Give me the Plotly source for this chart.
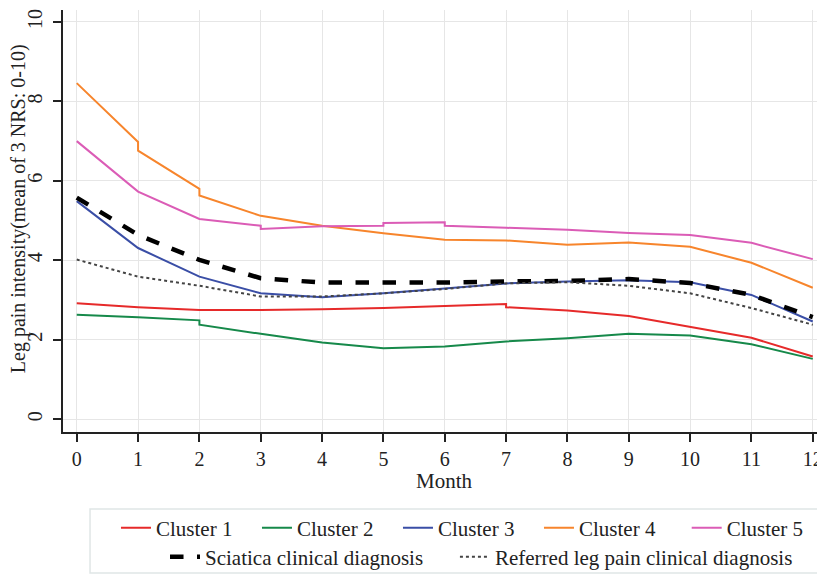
import plotly.graph_objects as go

# ---- data ----
c1_month = [0, 1, 2, 3, 4, 5, 6, 7, 7, 8, 9, 10, 11, 12]
c1_pain = [2.92, 2.82, 2.75, 2.75, 2.77, 2.80, 2.85, 2.90, 2.82, 2.74, 2.60, 2.33, 2.05, 1.58]

c2_month = [0, 1, 2, 2, 3, 4, 5, 6, 7, 8, 9, 10, 11, 12]
c2_pain = [2.63, 2.57, 2.49, 2.38, 2.15, 1.93, 1.79, 1.83, 1.96, 2.04, 2.15, 2.11, 1.89, 1.52]

c3_month = [0, 1, 2, 3, 4, 5, 6, 7, 8, 9, 10, 11, 12]
c3_pain = [5.49, 4.31, 3.59, 3.17, 3.07, 3.17, 3.29, 3.42, 3.47, 3.50, 3.45, 3.13, 2.46]

c4_month = [0, 1, 1, 2, 2, 3, 4, 5, 6, 7, 8, 9, 10, 11, 12]
c4_pain = [8.46, 6.98, 6.76, 5.80, 5.63, 5.12, 4.87, 4.68, 4.52, 4.50, 4.39, 4.45, 4.34, 3.94, 3.31]

c5_month = [0, 1, 2, 3, 3, 4, 5, 5, 6, 6, 7, 8, 9, 10, 11, 12]
c5_pain = [7.00, 5.73, 5.04, 4.87, 4.79, 4.86, 4.87, 4.94, 4.96, 4.87, 4.82, 4.77, 4.69, 4.64, 4.44, 4.03]

sci_month = [0, 1, 2, 3, 4, 5, 6, 7, 8, 9, 10, 11, 12]
sci_pain = [5.58, 4.64, 4.01, 3.55, 3.44, 3.43, 3.44, 3.47, 3.48, 3.53, 3.43, 3.13, 2.57]

ref_month = [0, 1, 2, 3, 4, 5, 6, 7, 8, 9, 10, 11, 12]
ref_pain = [4.02, 3.59, 3.36, 3.09, 3.09, 3.17, 3.28, 3.42, 3.45, 3.36, 3.17, 2.80, 2.38]

x_ticks = list(range(0, 13))
y_ticks = [0, 2, 4, 6, 8, 10]

FONT = "Liberation Serif"

fig = go.Figure()
clusters = [
    ("Cluster 1", c1_month, c1_pain, "#e62a2a", "legend"),
    ("Cluster 2", c2_month, c2_pain, "#16894a", "legend"),
    ("Cluster 3", c3_month, c3_pain, "#3a4ea6", "legend"),
    ("Cluster 4", c4_month, c4_pain, "#f7852c", "legend"),
    ("Cluster 5", c5_month, c5_pain, "#db5cb6", "legend4"),
]
for name, xs, ys, col, leg in clusters:
    fig.add_trace(go.Scatter(x=xs, y=ys, mode="lines", name=name,
                             line=dict(color=col, width=2), legend=leg))

fig.add_trace(go.Scatter(x=sci_month, y=sci_pain, mode="lines", name="Sciatica clinical diagnosis",
                         line=dict(color="black", width=4.5, dash="dash"), legend="legend2"))
fig.add_trace(go.Scatter(x=ref_month, y=ref_pain, mode="lines", name="Referred leg pain clinical diagnosis",
                         line=dict(color="#444444", width=2, dash="dot"), legend="legend3"))

fig.add_shape(type="rect", xref="paper", yref="paper", x0=0.0351, x1=1.0, y0=-0.334, y1=-0.1825,
              line=dict(color="#e0e6e6", width=1.5), fillcolor="rgba(0,0,0,0)", layer="below")

fig.add_annotation(text="Leg pain intensity(mean of 3 NRS: 0-10)", xref="paper", yref="paper",
                   x=-0.0584, y=0.528, xanchor="center", yanchor="middle", textangle=-90,
                   showarrow=False, font=dict(family=FONT, size=20, color="#222222"))
fig.add_annotation(text="Month", xref="paper", yref="paper",
                   x=0.496, y=-0.117, xanchor="center", yanchor="middle",
                   showarrow=False, font=dict(family=FONT, size=21, color="#222222"))

leg_common = dict(orientation="h", xanchor="left", yanchor="middle",
                  bgcolor="rgba(0,0,0,0)", font=dict(family=FONT, size=21), traceorder="normal")

fig.update_layout(
    width=825, height=576,
    margin=dict(l=55, r=0, t=2, b=152),
    paper_bgcolor="white", plot_bgcolor="white",
    font=dict(family=FONT, size=20, color="#222222"),
    showlegend=True,
    legend=dict(x=0.0688, y=-0.2275, entrywidth=96, **leg_common),
    legend4=dict(x=0.810, y=-0.2275, **leg_common),
    legend2=dict(x=0.1325, y=-0.2962, **leg_common),
    legend3=dict(x=0.509, y=-0.2962, **leg_common),
    xaxis=dict(
        range=[-0.224, 12.33], tickmode="array", tickvals=x_ticks, automargin=False,
        ticks="outside", ticklen=8, tickwidth=1.5, tickcolor="#222222",
        showline=True, linecolor="#222222", linewidth=2,
        showgrid=True, gridcolor="#e6e6e6", gridwidth=1, zeroline=False,
        tickfont=dict(family=FONT, size=20),
    ),
    yaxis=dict(
        range=[-0.32, 10.3], tickmode="array", tickvals=y_ticks, automargin=False,
        ticks="outside", ticklen=8, tickwidth=1.5, tickcolor="#222222",
        showline=True, linecolor="#222222", linewidth=2,
        showgrid=True, gridcolor="#e6e6e6", gridwidth=1, zeroline=False,
        tickangle=-90, ticklabelstandoff=3,
        tickfont=dict(family=FONT, size=20),
    ),
)

fig.write_html("out.html")
